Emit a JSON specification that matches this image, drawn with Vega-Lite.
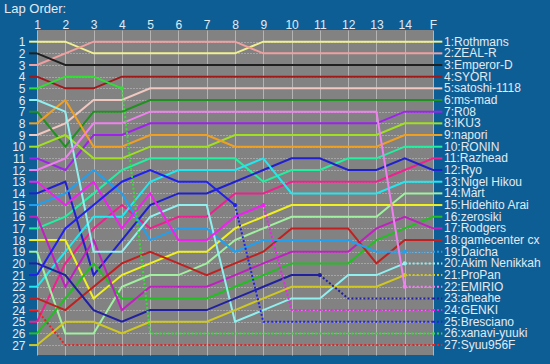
{
  "$schema": "https://vega.github.io/schema/vega-lite/v6.json",
  "width": 396,
  "height": 325,
  "autosize": {"type": "none"},
  "padding": {"left": 37, "top": 30, "right": 117, "bottom": 9},
  "background": "#0e5e96",
  "config": {
    "view": {"fill": "#828282", "stroke": null},
    "font": "Liberation Sans",
    "axis": {"labelFont": "Liberation Sans", "labelFontSize": 12, "labelColor": "#e2eaf2", "domain": false, "ticks": false}
  },
  "title": {"text": "Lap Order:", "anchor": "start", "frame": "group", "dx": -33, "offset": 2, "fontSize": 13, "font": "Liberation Sans", "fontWeight": "normal", "color": "#e2eaf2"},
  "datasets": {
    "retire": [
      {"driver": "Syuu956F", "ret": 1},
      {"driver": "xanavi-yuuki", "ret": 4},
      {"driver": "Bresciano", "ret": 8},
      {"driver": "GENKI", "ret": 9},
      {"driver": "aheahe", "ret": 11},
      {"driver": "EMIRIO", "ret": 14},
      {"driver": "ProPan", "ret": 14},
      {"driver": "Akim Nenikkah", "ret": 14},
      {"driver": "Daicha", "ret": 14}
    ]
  },
  "data": {"values": [
    {"driver":"Rothmans","lap":1,"pos":1},{"driver":"Rothmans","lap":2,"pos":1},{"driver":"Rothmans","lap":3,"pos":2},{"driver":"Rothmans","lap":4,"pos":2},{"driver":"Rothmans","lap":5,"pos":2},{"driver":"Rothmans","lap":6,"pos":2},{"driver":"Rothmans","lap":7,"pos":2},{"driver":"Rothmans","lap":8,"pos":2},{"driver":"Rothmans","lap":9,"pos":1},{"driver":"Rothmans","lap":10,"pos":1},{"driver":"Rothmans","lap":11,"pos":1},{"driver":"Rothmans","lap":12,"pos":1},{"driver":"Rothmans","lap":13,"pos":1},{"driver":"Rothmans","lap":14,"pos":1},{"driver":"Rothmans","lap":15,"pos":1},
    {"driver":"ZEAL-R","lap":1,"pos":3},{"driver":"ZEAL-R","lap":2,"pos":2},{"driver":"ZEAL-R","lap":3,"pos":1},{"driver":"ZEAL-R","lap":4,"pos":1},{"driver":"ZEAL-R","lap":5,"pos":1},{"driver":"ZEAL-R","lap":6,"pos":1},{"driver":"ZEAL-R","lap":7,"pos":1},{"driver":"ZEAL-R","lap":8,"pos":1},{"driver":"ZEAL-R","lap":9,"pos":2},{"driver":"ZEAL-R","lap":10,"pos":2},{"driver":"ZEAL-R","lap":11,"pos":2},{"driver":"ZEAL-R","lap":12,"pos":2},{"driver":"ZEAL-R","lap":13,"pos":2},{"driver":"ZEAL-R","lap":14,"pos":2},{"driver":"ZEAL-R","lap":15,"pos":2},
    {"driver":"Emperor-D","lap":1,"pos":2},{"driver":"Emperor-D","lap":2,"pos":3},{"driver":"Emperor-D","lap":3,"pos":3},{"driver":"Emperor-D","lap":4,"pos":3},{"driver":"Emperor-D","lap":5,"pos":3},{"driver":"Emperor-D","lap":6,"pos":3},{"driver":"Emperor-D","lap":7,"pos":3},{"driver":"Emperor-D","lap":8,"pos":3},{"driver":"Emperor-D","lap":9,"pos":3},{"driver":"Emperor-D","lap":10,"pos":3},{"driver":"Emperor-D","lap":11,"pos":3},{"driver":"Emperor-D","lap":12,"pos":3},{"driver":"Emperor-D","lap":13,"pos":3},{"driver":"Emperor-D","lap":14,"pos":3},{"driver":"Emperor-D","lap":15,"pos":3},
    {"driver":"SYORI","lap":1,"pos":4},{"driver":"SYORI","lap":2,"pos":5},{"driver":"SYORI","lap":3,"pos":5},{"driver":"SYORI","lap":4,"pos":4},{"driver":"SYORI","lap":5,"pos":4},{"driver":"SYORI","lap":6,"pos":4},{"driver":"SYORI","lap":7,"pos":4},{"driver":"SYORI","lap":8,"pos":4},{"driver":"SYORI","lap":9,"pos":4},{"driver":"SYORI","lap":10,"pos":4},{"driver":"SYORI","lap":11,"pos":4},{"driver":"SYORI","lap":12,"pos":4},{"driver":"SYORI","lap":13,"pos":4},{"driver":"SYORI","lap":14,"pos":4},{"driver":"SYORI","lap":15,"pos":4},
    {"driver":"satoshi-1118","lap":1,"pos":9},{"driver":"satoshi-1118","lap":2,"pos":8},{"driver":"satoshi-1118","lap":3,"pos":6},{"driver":"satoshi-1118","lap":4,"pos":6},{"driver":"satoshi-1118","lap":5,"pos":5},{"driver":"satoshi-1118","lap":6,"pos":5},{"driver":"satoshi-1118","lap":7,"pos":5},{"driver":"satoshi-1118","lap":8,"pos":5},{"driver":"satoshi-1118","lap":9,"pos":5},{"driver":"satoshi-1118","lap":10,"pos":5},{"driver":"satoshi-1118","lap":11,"pos":5},{"driver":"satoshi-1118","lap":12,"pos":5},{"driver":"satoshi-1118","lap":13,"pos":5},{"driver":"satoshi-1118","lap":14,"pos":5},{"driver":"satoshi-1118","lap":15,"pos":5},
    {"driver":"ms-mad","lap":1,"pos":7},{"driver":"ms-mad","lap":2,"pos":10},{"driver":"ms-mad","lap":3,"pos":7},{"driver":"ms-mad","lap":4,"pos":7},{"driver":"ms-mad","lap":5,"pos":6},{"driver":"ms-mad","lap":6,"pos":6},{"driver":"ms-mad","lap":7,"pos":6},{"driver":"ms-mad","lap":8,"pos":6},{"driver":"ms-mad","lap":9,"pos":6},{"driver":"ms-mad","lap":10,"pos":6},{"driver":"ms-mad","lap":11,"pos":6},{"driver":"ms-mad","lap":12,"pos":6},{"driver":"ms-mad","lap":13,"pos":6},{"driver":"ms-mad","lap":14,"pos":6},{"driver":"ms-mad","lap":15,"pos":6},
    {"driver":"R08","lap":1,"pos":11},{"driver":"R08","lap":2,"pos":12},{"driver":"R08","lap":3,"pos":9},{"driver":"R08","lap":4,"pos":9},{"driver":"R08","lap":5,"pos":8},{"driver":"R08","lap":6,"pos":8},{"driver":"R08","lap":7,"pos":8},{"driver":"R08","lap":8,"pos":8},{"driver":"R08","lap":9,"pos":8},{"driver":"R08","lap":10,"pos":8},{"driver":"R08","lap":11,"pos":8},{"driver":"R08","lap":12,"pos":8},{"driver":"R08","lap":13,"pos":8},{"driver":"R08","lap":14,"pos":7},{"driver":"R08","lap":15,"pos":7},
    {"driver":"IKU3","lap":1,"pos":10},{"driver":"IKU3","lap":2,"pos":9},{"driver":"IKU3","lap":3,"pos":11},{"driver":"IKU3","lap":4,"pos":11},{"driver":"IKU3","lap":5,"pos":10},{"driver":"IKU3","lap":6,"pos":10},{"driver":"IKU3","lap":7,"pos":10},{"driver":"IKU3","lap":8,"pos":9},{"driver":"IKU3","lap":9,"pos":9},{"driver":"IKU3","lap":10,"pos":9},{"driver":"IKU3","lap":11,"pos":9},{"driver":"IKU3","lap":12,"pos":9},{"driver":"IKU3","lap":13,"pos":9},{"driver":"IKU3","lap":14,"pos":8},{"driver":"IKU3","lap":15,"pos":8},
    {"driver":"napori","lap":1,"pos":8},{"driver":"napori","lap":2,"pos":6},{"driver":"napori","lap":3,"pos":10},{"driver":"napori","lap":4,"pos":10},{"driver":"napori","lap":5,"pos":9},{"driver":"napori","lap":6,"pos":9},{"driver":"napori","lap":7,"pos":9},{"driver":"napori","lap":8,"pos":10},{"driver":"napori","lap":9,"pos":10},{"driver":"napori","lap":10,"pos":10},{"driver":"napori","lap":11,"pos":10},{"driver":"napori","lap":12,"pos":10},{"driver":"napori","lap":13,"pos":10},{"driver":"napori","lap":14,"pos":9},{"driver":"napori","lap":15,"pos":9},
    {"driver":"RONIN","lap":1,"pos":17},{"driver":"RONIN","lap":2,"pos":16},{"driver":"RONIN","lap":3,"pos":14},{"driver":"RONIN","lap":4,"pos":12},{"driver":"RONIN","lap":5,"pos":11},{"driver":"RONIN","lap":6,"pos":11},{"driver":"RONIN","lap":7,"pos":11},{"driver":"RONIN","lap":8,"pos":11},{"driver":"RONIN","lap":9,"pos":13},{"driver":"RONIN","lap":10,"pos":12},{"driver":"RONIN","lap":11,"pos":12},{"driver":"RONIN","lap":12,"pos":11},{"driver":"RONIN","lap":13,"pos":11},{"driver":"RONIN","lap":14,"pos":10},{"driver":"RONIN","lap":15,"pos":10},
    {"driver":"Razhead","lap":1,"pos":25},{"driver":"Razhead","lap":2,"pos":20},{"driver":"Razhead","lap":3,"pos":17},{"driver":"Razhead","lap":4,"pos":15},{"driver":"Razhead","lap":5,"pos":17},{"driver":"Razhead","lap":6,"pos":16},{"driver":"Razhead","lap":7,"pos":16},{"driver":"Razhead","lap":8,"pos":14},{"driver":"Razhead","lap":9,"pos":14},{"driver":"Razhead","lap":10,"pos":13},{"driver":"Razhead","lap":11,"pos":13},{"driver":"Razhead","lap":12,"pos":13},{"driver":"Razhead","lap":13,"pos":13},{"driver":"Razhead","lap":14,"pos":12},{"driver":"Razhead","lap":15,"pos":11},
    {"driver":"Ryo","lap":1,"pos":14},{"driver":"Ryo","lap":2,"pos":13},{"driver":"Ryo","lap":3,"pos":21},{"driver":"Ryo","lap":4,"pos":18},{"driver":"Ryo","lap":5,"pos":15},{"driver":"Ryo","lap":6,"pos":14},{"driver":"Ryo","lap":7,"pos":14},{"driver":"Ryo","lap":8,"pos":13},{"driver":"Ryo","lap":9,"pos":12},{"driver":"Ryo","lap":10,"pos":11},{"driver":"Ryo","lap":11,"pos":11},{"driver":"Ryo","lap":12,"pos":12},{"driver":"Ryo","lap":13,"pos":12},{"driver":"Ryo","lap":14,"pos":11},{"driver":"Ryo","lap":15,"pos":12},
    {"driver":"Nigel Hikou","lap":1,"pos":22},{"driver":"Nigel Hikou","lap":2,"pos":19},{"driver":"Nigel Hikou","lap":3,"pos":16},{"driver":"Nigel Hikou","lap":4,"pos":16},{"driver":"Nigel Hikou","lap":5,"pos":13},{"driver":"Nigel Hikou","lap":6,"pos":12},{"driver":"Nigel Hikou","lap":7,"pos":12},{"driver":"Nigel Hikou","lap":8,"pos":12},{"driver":"Nigel Hikou","lap":9,"pos":11},{"driver":"Nigel Hikou","lap":10,"pos":14},{"driver":"Nigel Hikou","lap":11,"pos":14},{"driver":"Nigel Hikou","lap":12,"pos":14},{"driver":"Nigel Hikou","lap":13,"pos":14},{"driver":"Nigel Hikou","lap":14,"pos":13},{"driver":"Nigel Hikou","lap":15,"pos":13},
    {"driver":"Mart","lap":1,"pos":19},{"driver":"Mart","lap":2,"pos":26},{"driver":"Mart","lap":3,"pos":26},{"driver":"Mart","lap":4,"pos":22},{"driver":"Mart","lap":5,"pos":21},{"driver":"Mart","lap":6,"pos":21},{"driver":"Mart","lap":7,"pos":20},{"driver":"Mart","lap":8,"pos":18},{"driver":"Mart","lap":9,"pos":17},{"driver":"Mart","lap":10,"pos":16},{"driver":"Mart","lap":11,"pos":16},{"driver":"Mart","lap":12,"pos":16},{"driver":"Mart","lap":13,"pos":16},{"driver":"Mart","lap":14,"pos":14},{"driver":"Mart","lap":15,"pos":14},
    {"driver":"Hidehito Arai","lap":1,"pos":18},{"driver":"Hidehito Arai","lap":2,"pos":18},{"driver":"Hidehito Arai","lap":3,"pos":23},{"driver":"Hidehito Arai","lap":4,"pos":21},{"driver":"Hidehito Arai","lap":5,"pos":20},{"driver":"Hidehito Arai","lap":6,"pos":19},{"driver":"Hidehito Arai","lap":7,"pos":19},{"driver":"Hidehito Arai","lap":8,"pos":17},{"driver":"Hidehito Arai","lap":9,"pos":16},{"driver":"Hidehito Arai","lap":10,"pos":15},{"driver":"Hidehito Arai","lap":11,"pos":15},{"driver":"Hidehito Arai","lap":12,"pos":15},{"driver":"Hidehito Arai","lap":13,"pos":15},{"driver":"Hidehito Arai","lap":14,"pos":15},{"driver":"Hidehito Arai","lap":15,"pos":15},
    {"driver":"zerosiki","lap":1,"pos":26},{"driver":"zerosiki","lap":2,"pos":23},{"driver":"zerosiki","lap":3,"pos":20},{"driver":"zerosiki","lap":4,"pos":23},{"driver":"zerosiki","lap":5,"pos":23},{"driver":"zerosiki","lap":6,"pos":23},{"driver":"zerosiki","lap":7,"pos":23},{"driver":"zerosiki","lap":8,"pos":22},{"driver":"zerosiki","lap":9,"pos":21},{"driver":"zerosiki","lap":10,"pos":20},{"driver":"zerosiki","lap":11,"pos":20},{"driver":"zerosiki","lap":12,"pos":20},{"driver":"zerosiki","lap":13,"pos":18},{"driver":"zerosiki","lap":14,"pos":17},{"driver":"zerosiki","lap":15,"pos":16},
    {"driver":"Rodgers","lap":1,"pos":16},{"driver":"Rodgers","lap":2,"pos":22},{"driver":"Rodgers","lap":3,"pos":18},{"driver":"Rodgers","lap":4,"pos":24},{"driver":"Rodgers","lap":5,"pos":22},{"driver":"Rodgers","lap":6,"pos":22},{"driver":"Rodgers","lap":7,"pos":22},{"driver":"Rodgers","lap":8,"pos":21},{"driver":"Rodgers","lap":9,"pos":20},{"driver":"Rodgers","lap":10,"pos":19},{"driver":"Rodgers","lap":11,"pos":19},{"driver":"Rodgers","lap":12,"pos":19},{"driver":"Rodgers","lap":13,"pos":17},{"driver":"Rodgers","lap":14,"pos":16},{"driver":"Rodgers","lap":15,"pos":17},
    {"driver":"gamecenter cx","lap":1,"pos":23},{"driver":"gamecenter cx","lap":2,"pos":24},{"driver":"gamecenter cx","lap":3,"pos":22},{"driver":"gamecenter cx","lap":4,"pos":20},{"driver":"gamecenter cx","lap":5,"pos":19},{"driver":"gamecenter cx","lap":6,"pos":20},{"driver":"gamecenter cx","lap":7,"pos":21},{"driver":"gamecenter cx","lap":8,"pos":20},{"driver":"gamecenter cx","lap":9,"pos":19},{"driver":"gamecenter cx","lap":10,"pos":17},{"driver":"gamecenter cx","lap":11,"pos":17},{"driver":"gamecenter cx","lap":12,"pos":17},{"driver":"gamecenter cx","lap":13,"pos":20},{"driver":"gamecenter cx","lap":14,"pos":18},{"driver":"gamecenter cx","lap":15,"pos":18},
    {"driver":"Daicha","lap":1,"pos":15},{"driver":"Daicha","lap":2,"pos":14},{"driver":"Daicha","lap":3,"pos":12},{"driver":"Daicha","lap":4,"pos":14},{"driver":"Daicha","lap":5,"pos":18},{"driver":"Daicha","lap":6,"pos":17},{"driver":"Daicha","lap":7,"pos":17},{"driver":"Daicha","lap":8,"pos":19},{"driver":"Daicha","lap":9,"pos":18},{"driver":"Daicha","lap":10,"pos":18},{"driver":"Daicha","lap":11,"pos":18},{"driver":"Daicha","lap":12,"pos":18},{"driver":"Daicha","lap":13,"pos":19},{"driver":"Daicha","lap":14,"pos":19},{"driver":"Daicha","lap":15,"pos":19},
    {"driver":"Akim Nenikkah","lap":1,"pos":6},{"driver":"Akim Nenikkah","lap":2,"pos":7},{"driver":"Akim Nenikkah","lap":3,"pos":19},{"driver":"Akim Nenikkah","lap":4,"pos":19},{"driver":"Akim Nenikkah","lap":5,"pos":16},{"driver":"Akim Nenikkah","lap":6,"pos":15},{"driver":"Akim Nenikkah","lap":7,"pos":15},{"driver":"Akim Nenikkah","lap":8,"pos":25},{"driver":"Akim Nenikkah","lap":9,"pos":24},{"driver":"Akim Nenikkah","lap":10,"pos":23},{"driver":"Akim Nenikkah","lap":11,"pos":23},{"driver":"Akim Nenikkah","lap":12,"pos":21},{"driver":"Akim Nenikkah","lap":13,"pos":21},{"driver":"Akim Nenikkah","lap":14,"pos":20},{"driver":"Akim Nenikkah","lap":15,"pos":20},
    {"driver":"ProPan","lap":1,"pos":27},{"driver":"ProPan","lap":2,"pos":25},{"driver":"ProPan","lap":3,"pos":25},{"driver":"ProPan","lap":4,"pos":26},{"driver":"ProPan","lap":5,"pos":25},{"driver":"ProPan","lap":6,"pos":25},{"driver":"ProPan","lap":7,"pos":25},{"driver":"ProPan","lap":8,"pos":24},{"driver":"ProPan","lap":9,"pos":23},{"driver":"ProPan","lap":10,"pos":22},{"driver":"ProPan","lap":11,"pos":22},{"driver":"ProPan","lap":12,"pos":22},{"driver":"ProPan","lap":13,"pos":22},{"driver":"ProPan","lap":14,"pos":21},{"driver":"ProPan","lap":15,"pos":21},
    {"driver":"EMIRIO","lap":1,"pos":12},{"driver":"EMIRIO","lap":2,"pos":11},{"driver":"EMIRIO","lap":3,"pos":8},{"driver":"EMIRIO","lap":4,"pos":8},{"driver":"EMIRIO","lap":5,"pos":7},{"driver":"EMIRIO","lap":6,"pos":7},{"driver":"EMIRIO","lap":7,"pos":7},{"driver":"EMIRIO","lap":8,"pos":7},{"driver":"EMIRIO","lap":9,"pos":7},{"driver":"EMIRIO","lap":10,"pos":7},{"driver":"EMIRIO","lap":11,"pos":7},{"driver":"EMIRIO","lap":12,"pos":7},{"driver":"EMIRIO","lap":13,"pos":7},{"driver":"EMIRIO","lap":14,"pos":22},{"driver":"EMIRIO","lap":15,"pos":22},
    {"driver":"aheahe","lap":1,"pos":20},{"driver":"aheahe","lap":2,"pos":21},{"driver":"aheahe","lap":3,"pos":24},{"driver":"aheahe","lap":4,"pos":25},{"driver":"aheahe","lap":5,"pos":24},{"driver":"aheahe","lap":6,"pos":24},{"driver":"aheahe","lap":7,"pos":24},{"driver":"aheahe","lap":8,"pos":23},{"driver":"aheahe","lap":9,"pos":22},{"driver":"aheahe","lap":10,"pos":21},{"driver":"aheahe","lap":11,"pos":21},{"driver":"aheahe","lap":12,"pos":23},{"driver":"aheahe","lap":13,"pos":23},{"driver":"aheahe","lap":14,"pos":23},{"driver":"aheahe","lap":15,"pos":23},
    {"driver":"GENKI","lap":1,"pos":13},{"driver":"GENKI","lap":2,"pos":15},{"driver":"GENKI","lap":3,"pos":13},{"driver":"GENKI","lap":4,"pos":17},{"driver":"GENKI","lap":5,"pos":14},{"driver":"GENKI","lap":6,"pos":18},{"driver":"GENKI","lap":7,"pos":18},{"driver":"GENKI","lap":8,"pos":16},{"driver":"GENKI","lap":9,"pos":15},{"driver":"GENKI","lap":10,"pos":24},{"driver":"GENKI","lap":11,"pos":24},{"driver":"GENKI","lap":12,"pos":24},{"driver":"GENKI","lap":13,"pos":24},{"driver":"GENKI","lap":14,"pos":24},{"driver":"GENKI","lap":15,"pos":24},
    {"driver":"Bresciano","lap":1,"pos":21},{"driver":"Bresciano","lap":2,"pos":17},{"driver":"Bresciano","lap":3,"pos":15},{"driver":"Bresciano","lap":4,"pos":13},{"driver":"Bresciano","lap":5,"pos":12},{"driver":"Bresciano","lap":6,"pos":13},{"driver":"Bresciano","lap":7,"pos":13},{"driver":"Bresciano","lap":8,"pos":15},{"driver":"Bresciano","lap":9,"pos":25},{"driver":"Bresciano","lap":10,"pos":25},{"driver":"Bresciano","lap":11,"pos":25},{"driver":"Bresciano","lap":12,"pos":25},{"driver":"Bresciano","lap":13,"pos":25},{"driver":"Bresciano","lap":14,"pos":25},{"driver":"Bresciano","lap":15,"pos":25},
    {"driver":"xanavi-yuuki","lap":1,"pos":5},{"driver":"xanavi-yuuki","lap":2,"pos":4},{"driver":"xanavi-yuuki","lap":3,"pos":4},{"driver":"xanavi-yuuki","lap":4,"pos":5},{"driver":"xanavi-yuuki","lap":5,"pos":26},{"driver":"xanavi-yuuki","lap":6,"pos":26},{"driver":"xanavi-yuuki","lap":7,"pos":26},{"driver":"xanavi-yuuki","lap":8,"pos":26},{"driver":"xanavi-yuuki","lap":9,"pos":26},{"driver":"xanavi-yuuki","lap":10,"pos":26},{"driver":"xanavi-yuuki","lap":11,"pos":26},{"driver":"xanavi-yuuki","lap":12,"pos":26},{"driver":"xanavi-yuuki","lap":13,"pos":26},{"driver":"xanavi-yuuki","lap":14,"pos":26},{"driver":"xanavi-yuuki","lap":15,"pos":26},
    {"driver":"Syuu956F","lap":1,"pos":24},{"driver":"Syuu956F","lap":2,"pos":27},{"driver":"Syuu956F","lap":3,"pos":27},{"driver":"Syuu956F","lap":4,"pos":27},{"driver":"Syuu956F","lap":5,"pos":27},{"driver":"Syuu956F","lap":6,"pos":27},{"driver":"Syuu956F","lap":7,"pos":27},{"driver":"Syuu956F","lap":8,"pos":27},{"driver":"Syuu956F","lap":9,"pos":27},{"driver":"Syuu956F","lap":10,"pos":27},{"driver":"Syuu956F","lap":11,"pos":27},{"driver":"Syuu956F","lap":12,"pos":27},{"driver":"Syuu956F","lap":13,"pos":27},{"driver":"Syuu956F","lap":14,"pos":27},{"driver":"Syuu956F","lap":15,"pos":27}
  ]},
  "transform": [
    {"lookup": "driver", "from": {"data": {"name": "retire"}, "key": "driver", "fields": ["ret"]}},
    {"calculate": "datum.ret == null || datum.lap < datum.ret ? 'run' : (datum.lap == datum.ret ? 'ret' : 'out')", "as": "status"}
  ],
  "encoding": {
    "x": {"field": "lap", "type": "quantitative",
      "scale": {"domain": [1, 15], "nice": false, "zero": false},
      "axis": {"orient": "top", "title": null, "values": [1,2,3,4,5,6,7,8,9,10,11,12,13,14,15], "labelExpr": "datum.value == 15 ? 'F' : datum.value", "labelPadding": 2, "labelBaseline": "alphabetic", "labelFlush": false, "labelOverlap": false, "grid": true, "gridColor": "#b4b4b4", "gridWidth": 1}},
    "y": {"field": "pos", "type": "quantitative",
      "scale": {"domain": [0, 27.85], "reverse": true, "nice": false, "zero": false},
      "axis": {"title": null, "values": [1,2,3,4,5,6,7,8,9,10,11,12,13,14,15,16,17,18,19,20,21,22,23,24,25,26,27], "labelPadding": 12, "labelBaseline": "middle", "labelOverlap": false, "labelFontSize": 12, "grid": true, "gridColor": "#c8c8c8", "gridDash": [1, 2], "gridWidth": 1}},
    "color": {"field": "driver", "type": "nominal", "legend": null,
      "scale": {
        "domain": ["Rothmans","ZEAL-R","Emperor-D","SYORI","satoshi-1118","ms-mad","R08","IKU3","napori","RONIN","Razhead","Ryo","Nigel Hikou","Mart","Hidehito Arai","zerosiki","Rodgers","gamecenter cx","Daicha","Akim Nenikkah","ProPan","EMIRIO","aheahe","GENKI","Bresciano","xanavi-yuuki","Syuu956F"],
        "range": ["#f0f090","#f0a0a0","#202020","#a01818","#f0c8c0","#209020","#a020f0","#a0e020","#f0a020","#20f0a0","#f02090","#2020d0","#20e8f0","#a0f0a0","#f0f020","#20c020","#c020c0","#c02020","#20a0f0","#90f0f0","#d0c820","#f080f0","#2020a0","#f020f0","#2020f0","#30e030","#f02020"]
      }}
  },
  "layer": [
    {"transform": [{"filter": "datum.status != 'out'"}], "mark": {"type": "line", "strokeWidth": 2}, "encoding": {"detail": {"field": "driver"}}},
    {"transform": [{"filter": "datum.status != 'run'"}], "mark": {"type": "line", "strokeWidth": 2, "strokeDash": [2, 2]}, "encoding": {"detail": {"field": "driver"}}},
    {"transform": [{"filter": "datum.status == 'ret' && datum.lap > 1"}], "mark": {"type": "point", "filled": true, "opacity": 1, "size": 18}},
    {"transform": [{"filter": "datum.lap == 1"}], "mark": {"type": "rule", "strokeWidth": 2},
      "encoding": {"x": {"datum": 0.72, "type": "quantitative"}, "x2": {"datum": 1}}},
    {"transform": [{"filter": "datum.lap == 15 && datum.status == 'run'"}], "mark": {"type": "rule", "strokeWidth": 2},
      "encoding": {"x": {"datum": 15, "type": "quantitative"}, "x2": {"datum": 15.33}}},
    {"transform": [{"filter": "datum.lap == 15 && datum.status != 'run'"}], "mark": {"type": "rule", "strokeWidth": 2, "strokeDash": [2, 2]},
      "encoding": {"x": {"datum": 15, "type": "quantitative"}, "x2": {"datum": 15.33}}},
    {"transform": [{"filter": "datum.lap == 15"}, {"calculate": "datum.pos + ':' + datum.driver", "as": "label"}],
      "mark": {"type": "text", "align": "left", "baseline": "middle", "dx": 11, "fontSize": 12, "font": "Liberation Sans", "color": "#e2eaf2"},
      "encoding": {"x": {"datum": 15, "type": "quantitative"}, "text": {"field": "label"}, "color": {"value": "#e2eaf2"}}}
  ]
}
